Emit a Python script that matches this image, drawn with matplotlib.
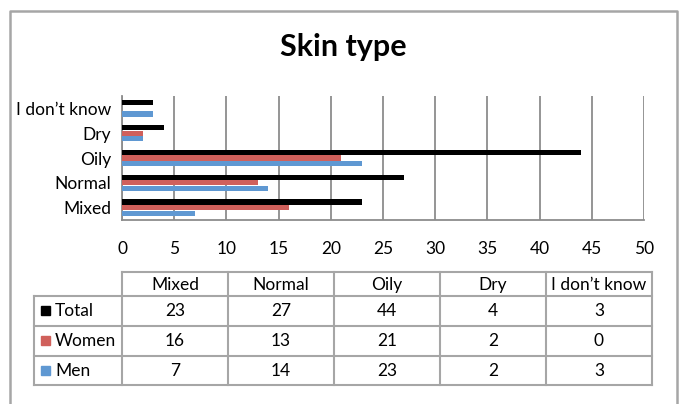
import matplotlib
matplotlib.use("Agg")
import matplotlib.pyplot as plt
import numpy as np

plt.rcParams['font.family'] = ['Lato', 'DejaVu Sans']

categories = ["Mixed", "Normal", "Oily", "Dry", "I don\u2019t know"]
series_names = ["Total", "Women", "Men"]
total = [23, 27, 44, 4, 3]
women = [16, 13, 21, 2, 0]
men = [7, 14, 23, 2, 3]
colors = ["#000000", "#D0605B", "#5F98D2"]
xticks = list(range(0, 51, 5))

W, H = 681, 404
fig = plt.figure(figsize=(W / 100, H / 100), dpi=100)

# overlay in pixel coords for frame + table
bg = fig.add_axes([0, 0, 1, 1])
bg.set_xlim(0, W)
bg.set_ylim(H, 0)
bg.axis("off")
grey = "#A6A6A6"
bg.plot([10, 10, 677, 677], [420, 11, 11, 420], color=grey, lw=1.8, solid_capstyle="butt")

fig.text(343 / W, 1 - 47 / H, "Skin type", ha="center", va="center",
         fontsize=22, fontweight="bold")

# bar chart
ax = fig.add_axes([122 / W, 1 - 220 / H, (644 - 122) / W, (220 - 96) / H])
y = np.arange(len(categories))
h = 0.215
step = 0.225
for k, (vals, c) in enumerate(zip([total, women, men], colors)):
    ax.barh(y + step * (1 - k), vals, height=h, color=c, zorder=3)
ax.set_xlim(0, 50)
ax.set_ylim(-0.5, len(categories) - 0.5)
ax.set_xticks(xticks)
ax.set_yticks(y)
ax.set_yticklabels(categories)
ax.grid(axis="x", color="#8C8C8C", lw=1.3, zorder=0)
for s in ["top", "right"]:
    ax.spines[s].set_visible(False)
for s in ["left", "bottom"]:
    ax.spines[s].set_color("#8C8C8C")
    ax.spines[s].set_linewidth(1.3)
ax.tick_params(axis="x", length=0, pad=15, labelsize=12.5)
ax.tick_params(axis="y", length=0, pad=8, labelsize=12.5)

# data table
col_x = [122 + 106 * i for i in range(len(categories) + 1)]
row_y = [272, 296, 326, 356, 385]
lab_x0 = 34
lw = 1.5
bg.plot([col_x[0], col_x[-1]], [row_y[0], row_y[0]], color=grey, lw=lw)
for yy in row_y[1:]:
    bg.plot([lab_x0, col_x[-1]], [yy, yy], color=grey, lw=lw)
for xx in col_x:
    bg.plot([xx, xx], [row_y[0], row_y[-1]], color=grey, lw=lw)
bg.plot([lab_x0, lab_x0], [row_y[1], row_y[-1]], color=grey, lw=lw)

for i, cat in enumerate(categories):
    cx = (col_x[i] + col_x[i + 1]) / 2
    bg.text(cx, (row_y[0] + row_y[1]) / 2 + 1, cat, ha="center", va="center", fontsize=12.5)
for r, (name, vals, c) in enumerate(zip(series_names, [total, women, men], colors)):
    cy = (row_y[r + 1] + row_y[r + 2]) / 2
    bg.add_patch(plt.Rectangle((41, cy - 5), 9, 9, color=c))
    bg.text(55, cy, name, ha="left", va="center", fontsize=12.5)
    for i, v in enumerate(vals):
        cx = (col_x[i] + col_x[i + 1]) / 2
        bg.text(cx, cy, str(v), ha="center", va="center", fontsize=12.5)

fig.savefig("out.png", dpi=100)
